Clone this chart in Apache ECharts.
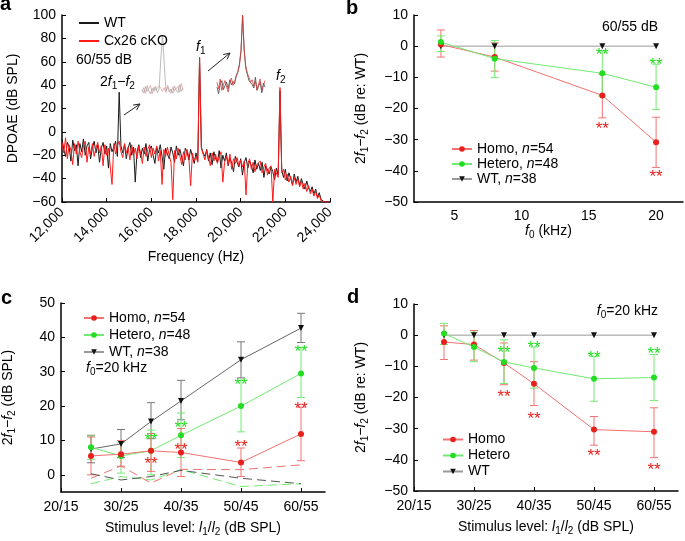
<!DOCTYPE html>
<html>
<head>
<meta charset="utf-8">
<script src="https://cdn.jsdelivr.net/npm/echarts@6/dist/echarts.min.js"></script>
<style>html,body{margin:0;padding:0;background:#fff}#main{width:685px;height:541px}</style>
</head>
<body>
<div id="main"></div>
<script>
// ---- panel a : spectrum (80 Hz bins from 12 kHz) ----
var specStart = 12000, specStep = 80;
var specWT = [-6,-15,-21,-9,-13,-25,-7,-16,-11,-29,
  -10,-17,-6,-20,-12,-9,-23,-14,-8,-18,
  -11,-26,-14,-9,-19,-12,-31,-10,-17,-13,
  -8,-21,34,-12,-18,-11,-23,-14,-9,-20,
  -13,-43,-17,-11,-22,-14,-19,-10,-25,-15,
  -12,-20,-27,-13,-18,-11,-21,-32,-14,-19,
  -23,-13,-18,-26,-12,-20,-15,-22,-29,-14,
  -17,-24,-15,-21,-27,-18,-25,63,-13,-18,
  -21,-15,-25,-18,-28,-17,-23,-26,-16,-31,
  -20,-25,-18,-29,-22,-27,-34,-21,-26,-30,
  -23,-37,-26,-22,-31,-25,-29,-35,-24,-32,
  -27,-33,-26,-39,-29,-30,-36,-30,-34,-41,
  -31,-37,35,-33,-39,-32,-42,-35,-40,-45,
  -36,-43,-38,-46,-40,-45,-49,-42,-48,-51,
  -47,-53,-49,-56,-52,-58,-58,-60,-60,-60,-60];
var specKO = [-9,-18,-5,-23,-11,-16,-28,-10,-19,-8,
  -17,-22,-12,-8,-26,-13,-19,-10,-21,-14,
  -9,-18,-12,-29,-11,-20,-14,-15,-45,-10,
  -19,-12,-8,-17,-22,-10,-18,-13,-24,-11,
  -20,-14,-23,-12,-18,-27,-13,-21,-15,-11,
  -22,-14,-19,-12,-25,-16,-45,-15,-21,-13,
  -20,-26,-58,-16,-23,-14,-21,-28,-17,-24,
  -15,-22,-46,-18,-25,-21,-26,64,-14,-19,
  -24,-16,-22,-29,-18,-25,-19,-27,-21,-17,
  -43,-26,-21,-28,-19,-32,-23,-27,-22,-29,
  -24,-30,-25,-54,-27,-23,-32,-26,-34,-28,
  -29,-25,-35,-30,-27,-37,-31,-29,-60,-32,
  -33,-39,38,-35,-32,-41,-36,-43,-38,-46,
  -39,-45,-40,-47,-42,-49,-44,-51,-46,-53,
  -49,-55,-51,-57,-54,-59,-60,-60,-60,-60,-60];
// insets (relative level 0-100)
var inset1WT = [8,15,6,18,10,5,14,9,17,7,12,60,100,55,10,16,8,13,6,18,11,7,20,9,14];
var inset1KO = [12,6,17,9,14,19,5,16,11,8,18,14,9,15,7,19,12,6,16,10,13,17,8,22,11];
var inset2KO = [18,10,22,8,15,20,12,6,17,23,14,19,25,30,38,55,100,58,37,29,24,18,21,13,19,9,16,22,7,14,20];
var inset2WT = [12,4,16,20,9,14,18,10,21,15,19,16,26,31,40,57,99,56,35,27,20,22,15,11,24,8,13,18,5,17,12];

// ---- panel b : 2f1-f2 re WT vs f0 ----
var freqsB = [4, 8, 16, 20];
var homoB = [0.5, -3.5, -15.8, -30.8];
var homoErrB = [[-3.5, 5.2], [-8, 1.1], [-23, -9], [-38.9, -22.8]];
var heteroB = [1.3, -4, -8.7, -13.2];
var heteroErrB = [[-1.7, 3.3], [-10.1, 1.8], [-16, -1.5], [-20.3, -5.8]];
var wtB = [0, 0, 0, 0];
var starsGreenB = [[16, -1.2], [20, -4.5]];
var starsRedB = [[16, -25], [20, -40.6]];

// ---- panels c, d : vs stimulus level (L1) ----
var levels = [25, 30, 35, 40, 50, 60];
var levelTicks = [20, 30, 40, 50, 60];
var levelTickLabels = ['20/15', '30/25', '40/35', '50/45', '60/55'];

var wtC = [7.5, 9, 15.5, 21.5, 33.5, 42.7];
var wtErrC = [[3.5, 11.5], [5, 13.2], [10.5, 21], [16, 27.5], [28.2, 38.7], [38.5, 47]];
var heteroC = [8, 5.5, 7, 11.5, 20, 29.5];
var heteroErrC = [[4.5, 11.3], [0.5, 9.5], [0, 13], [5, 18], [12.5, 27.5], [22.5, 37]];
var homoC = [5.5, 6, 7, 6.5, 3.6, 11.9];
var homoErrC = [[0, 11], [2.5, 10], [1, 12], [-0.5, 13.5], [-0.5, 7.8], [4.1, 19.7]];
var homoFloorC = [-1.0, 2.6, -2.4, 1.6, 1.5, 2.9];
var heteroFloorC = [-2.6, -0.5, -1.5, 1.5, -3.4, -2.6];
var wtFloorC = [0.3, -1.5, -0.5, 1.3, -1.0, -2.6];
var starsGreenC = [[35, 11.4], [40, 15], [50, 27.6], [60, 37.1]];
var starsRedC = [[35, 4.6], [40, 8.5], [50, 9.4], [60, 20.6]];

var homoD = [-2.2, -3, -8.9, -15.6, -30.3, -31];
var homoErrD = [[-7.8, 3], [-8, 1.5], [-15.9, -2.5], [-22.6, -8.5], [-35.3, -26.1], [-39.3, -23.3]];
var heteroD = [0.5, -3.8, -8.6, -10.5, -14, -13.6];
var heteroErrD = [[-3, 3.8], [-8.5, 1], [-15.5, -1.5], [-17, -3.8], [-21.2, -6.8], [-21, -6.2]];
var wtD = [0, 0, 0, 0, 0, 0];
var starsGreenD = [[35, -4.3], [40, -2.5], [50, -5.7], [60, -4.6]];
var starsRedD = [[35, -18.3], [40, -25.3], [50, -37.4], [60, -41.7]];

var FONT = '"Liberation Sans", Arial, Helvetica, sans-serif';
var RED = '#e8201c', RED_L = '#f27272', GREEN = '#22dd22', GREEN_L = '#72ea72';

var rich = {
  t: {fontSize: 14, fontFamily: FONT, color: '#000'},
  i: {fontSize: 14, fontFamily: FONT, fontStyle: 'italic', color: '#000'},
  s: {fontSize: 10, fontFamily: FONT, color: '#000', padding: [8, 0, 0, 0]}
};
var minus = function (v) { return String(v).replace('-', '\u2212'); };

function axisBase(gi) {
  return {
    gridIndex: gi, type: 'value',
    axisLine: {show: true, onZero: false, lineStyle: {color: '#000', width: 1.5}},
    axisTick: {show: true, inside: true, length: 4, lineStyle: {color: '#000'}},
    axisLabel: {fontSize: 14, fontFamily: FONT, color: '#000', margin: 6, formatter: minus},
    splitLine: {show: false},
    nameLocation: 'middle',
    nameTextStyle: {fontSize: 14, fontFamily: FONT, color: '#000', rich: rich}
  };
}
function ext(a, b) { return Object.assign(a, b); }

function lineSeries(gi, name, xs, ys, mark, line, symbol) {
  return {
    type: 'line', name: name, xAxisIndex: gi, yAxisIndex: gi,
    data: xs.map(function (x, i) { return [x, ys[i]]; }),
    symbol: symbol || 'circle', symbolSize: 6, symbolRotate: symbol === 'triangle' ? 180 : 0,
    itemStyle: {color: mark}, lineStyle: {color: line, width: 1}, z: 3
  };
}
function floorSeries(gi, ys, color) {
  return {
    type: 'line', xAxisIndex: gi, yAxisIndex: gi, symbol: 'none', z: 2,
    data: levels.map(function (x, i) { return [x, ys[i]]; }),
    lineStyle: {color: color, width: 1, type: [9, 5]}
  };
}
function errSeries(gi, xs, errs, color) {
  return {
    type: 'custom', xAxisIndex: gi, yAxisIndex: gi, silent: true, z: 1,
    data: xs.map(function (x, i) { return [x, errs[i][0], errs[i][1]]; }),
    encode: {x: 0, y: [1, 2]},
    renderItem: function (p, api) {
      var x = api.value(0);
      var a = api.coord([x, api.value(1)]), b = api.coord([x, api.value(2)]);
      var st = {stroke: color, lineWidth: 1};
      return {type: 'group', children: [
        {type: 'line', shape: {x1: a[0], y1: a[1], x2: b[0], y2: b[1]}, style: st},
        {type: 'line', shape: {x1: a[0] - 4, y1: a[1], x2: a[0] + 4, y2: a[1]}, style: st},
        {type: 'line', shape: {x1: b[0] - 4, y1: b[1], x2: b[0] + 4, y2: b[1]}, style: st}
      ]};
    }
  };
}
function starSeries(gi, pts, color) {
  return {
    type: 'custom', xAxisIndex: gi, yAxisIndex: gi, silent: true, z: 5, data: pts,
    renderItem: function (p, api) {
      var c = api.coord([api.value(0), api.value(1)]);
      return {type: 'text', x: c[0], y: c[1] + 5,
        style: {text: '**', fill: color, font: '17px ' + FONT, align: 'center', verticalAlign: 'middle'}};
    }
  };
}
function specSeries(name, vals, color) {
  return {
    type: 'line', name: name, xAxisIndex: 0, yAxisIndex: 0, symbol: 'none',
    data: vals.map(function (v, i) { return [specStart + i * specStep, v]; }),
    lineStyle: {color: color, width: 1}, itemStyle: {color: color}
  };
}
function insetSeries(gi, vals, color) {
  return {type: 'line', xAxisIndex: gi, yAxisIndex: gi, symbol: 'none', data: vals,
    lineStyle: {color: color, width: 0.8}};
}
function arrow(x1, y1, x2, y2) {
  var ang = Math.atan2(y2 - y1, x2 - x1), L = 7, A = 0.45;
  var p1 = [x2 - L * Math.cos(ang - A), y2 - L * Math.sin(ang - A)];
  var p2 = [x2 - L * Math.cos(ang + A), y2 - L * Math.sin(ang + A)];
  return {type: 'group', children: [
    {type: 'line', shape: {x1: x1, y1: y1, x2: x2, y2: y2}, style: {stroke: '#222', lineWidth: 1}},
    {type: 'polyline', shape: {points: [p1, [x2, y2], p2]}, style: {stroke: '#222', fill: null, lineWidth: 1}}
  ]};
}
function txt(x, y, text, opt) {
  return {type: 'text', x: x, y: y, style: ext({text: text, font: '14px ' + FONT, fill: '#000',
    verticalAlign: 'middle', rich: rich}, opt || {})};
}
function legend(names, left, top, lh, extra) {
  return ext({
    data: names, orient: 'vertical', left: left, top: top, itemWidth: 20, itemHeight: 7, itemGap: 1,
    textStyle: {fontSize: 14, fontFamily: FONT, color: '#000', lineHeight: lh,
      rich: {i: {fontSize: 14, fontFamily: FONT, fontStyle: 'italic', color: '#000', lineHeight: lh}}},
    formatter: function (n) { return n.replace(', n=', ', {i|n}='); }
  }, extra || {});
}

var yName = '{t|2}{i|f}{s|1}{t|\u2212}{i|f}{s|2}';
var levelAxis = function (gi) {
  return ext(axisBase(gi), {
    min: 20, max: 64, name: '{t|Stimulus level: }{i|l}{s|1}{t|/}{i|l}{s|2}{t| (dB SPL)}', nameGap: 27,
    axisLabel: {fontSize: 14, fontFamily: FONT, color: '#000', margin: 8, customValues: levelTicks,
      formatter: function (v) { return levelTickLabels[levelTicks.indexOf(v)]; }},
    axisTick: {show: true, inside: true, length: 4, customValues: levelTicks, lineStyle: {color: '#000'}}
  });
};

var chart = echarts.init(document.getElementById('main'), null, {renderer: 'canvas'});
chart.setOption({
  animation: false,
  backgroundColor: '#fff',
  grid: [
    {left: 62, top: 15, width: 268, height: 187, outerBoundsMode: 'none'},
    {left: 414, top: 15, width: 269, height: 187, outerBoundsMode: 'none'},
    {left: 61, top: 303, width: 264, height: 189, outerBoundsMode: 'none'},
    {left: 414, top: 304, width: 264, height: 187, outerBoundsMode: 'none'},
    {left: 142, top: 35, width: 41, height: 62, outerBoundsMode: 'none'},
    {left: 217, top: 15, width: 48, height: 82, outerBoundsMode: 'none'}
  ],
  xAxis: [
    ext(axisBase(0), {min: 12000, max: 24000, interval: 2000, name: 'Frequency (Hz)', nameGap: 48,
      axisLabel: {fontSize: 14, fontFamily: FONT, color: '#000', rotate: 45, margin: 8,
        formatter: function (v) { return v.toLocaleString('en-US'); }}}),
    ext(axisBase(1), {min: 2, max: 22, name: '{i|f}{s|0}{t| (kHz)}', nameGap: 20,
      axisLabel: {fontSize: 14, fontFamily: FONT, color: '#000', margin: 7, customValues: [5, 10, 15, 20]},
      axisTick: {show: false}}),
    levelAxis(2),
    levelAxis(3),
    {gridIndex: 4, type: 'category', show: false, boundaryGap: false, data: inset1WT.map(function (v, i) { return i; })},
    {gridIndex: 5, type: 'category', show: false, boundaryGap: false, data: inset2WT.map(function (v, i) { return i; })}
  ],
  yAxis: [
    ext(axisBase(0), {min: -60, max: 100, interval: 20, name: 'DPOAE (dB SPL)', nameGap: 42}),
    ext(axisBase(1), {min: -50, max: 10, interval: 10, name: yName + '{t| (dB re: WT)}', nameGap: 44}),
    ext(axisBase(2), {min: -5, max: 50, name: yName + '{t| (dB SPL)}', nameGap: 44,
      axisLabel: {fontSize: 14, fontFamily: FONT, color: '#000', margin: 6, customValues: [0, 10, 20, 30, 40, 50]},
      axisTick: {show: true, inside: true, length: 4, customValues: [0, 10, 20, 30, 40, 50], lineStyle: {color: '#000'}}}),
    ext(axisBase(3), {min: -50, max: 10, interval: 10, name: yName + '{t| (dB re: WT)}', nameGap: 44}),
    {gridIndex: 4, type: 'value', show: false, min: 0, max: 100},
    {gridIndex: 5, type: 'value', show: false, min: 0, max: 100}
  ],
  legend: [
    legend(['WT ', 'Cx26 cKO'], 74, 10, 16, {icon: 'rect', itemHeight: 2, itemGap: 2}),
    legend(['Homo, n=54', 'Hetero, n=48', 'WT, n=38'], 446, 137, 14),
    legend(['Homo, n=54', 'Hetero, n=48', 'WT, n=38'], 78, 305, 16),
    legend(['Homo', 'Hetero', 'WT'], 437, 427, 15)
  ],
  graphic: [
    txt(0, 4, 'a', {font: 'bold 20px ' + FONT}),
    txt(346, 8, 'b', {font: 'bold 20px ' + FONT}),
    txt(1, 298, 'c', {font: 'bold 20px ' + FONT}),
    txt(347, 297, 'd', {font: 'bold 20px ' + FONT}),
    txt(76, 60, '60/55 dB'),
    txt(100, 82, '{t|2}{i|f}{s|1}{t|\u2212}{i|f}{s|2}'),
    txt(196, 47, '{i|f}{s|1}'),
    txt(276, 76, '{i|f}{s|2}'),
    txt(658, 27, '60/55 dB', {align: 'right'}),
    txt(86, 368, '{i|f}{s|0}{t|=20 kHz}'),
    txt(658, 311, '{i|f}{s|0}{t|=20 kHz}', {align: 'right'}),
    arrow(124, 115, 140, 104),
    arrow(208, 71, 230, 53)
  ],
  series: [
    specSeries('WT ', specWT, '#1a1a1a'),
    specSeries('Cx26 cKO', specKO, '#ff1a1a'),
    insetSeries(4, inset1KO, '#eaa0a0'),
    insetSeries(4, inset1WT, '#a8a8a8'),
    insetSeries(5, inset2WT, '#444444'),
    insetSeries(5, inset2KO, '#d83a3a'),

    errSeries(1, freqsB, homoErrB, RED_L),
    errSeries(1, freqsB, heteroErrB, GREEN_L),
    lineSeries(1, 'WT, n=38', freqsB, wtB, '#111', '#999', 'triangle'),
    lineSeries(1, 'Homo, n=54', freqsB, homoB, RED, RED_L),
    lineSeries(1, 'Hetero, n=48', freqsB, heteroB, GREEN, GREEN_L),
    starSeries(1, starsGreenB, GREEN),
    starSeries(1, starsRedB, RED),

    floorSeries(2, homoFloorC, RED_L),
    floorSeries(2, heteroFloorC, GREEN_L),
    floorSeries(2, wtFloorC, '#555'),
    errSeries(2, levels, wtErrC, '#777'),
    errSeries(2, levels, heteroErrC, GREEN_L),
    errSeries(2, levels, homoErrC, RED_L),
    lineSeries(2, 'WT, n=38', levels, wtC, '#111', '#666', 'triangle'),
    lineSeries(2, 'Hetero, n=48', levels, heteroC, GREEN, GREEN_L),
    lineSeries(2, 'Homo, n=54', levels, homoC, RED, RED_L),
    starSeries(2, starsGreenC, GREEN),
    starSeries(2, starsRedC, RED),

    errSeries(3, levels, homoErrD, RED_L),
    errSeries(3, levels, heteroErrD, GREEN_L),
    lineSeries(3, 'WT', levels, wtD, '#111', '#999', 'triangle'),
    lineSeries(3, 'Homo', levels, homoD, RED, RED_L),
    lineSeries(3, 'Hetero', levels, heteroD, GREEN, GREEN_L),
    starSeries(3, starsGreenD, GREEN),
    starSeries(3, starsRedD, RED)
  ]
});
</script>
</body>
</html>
